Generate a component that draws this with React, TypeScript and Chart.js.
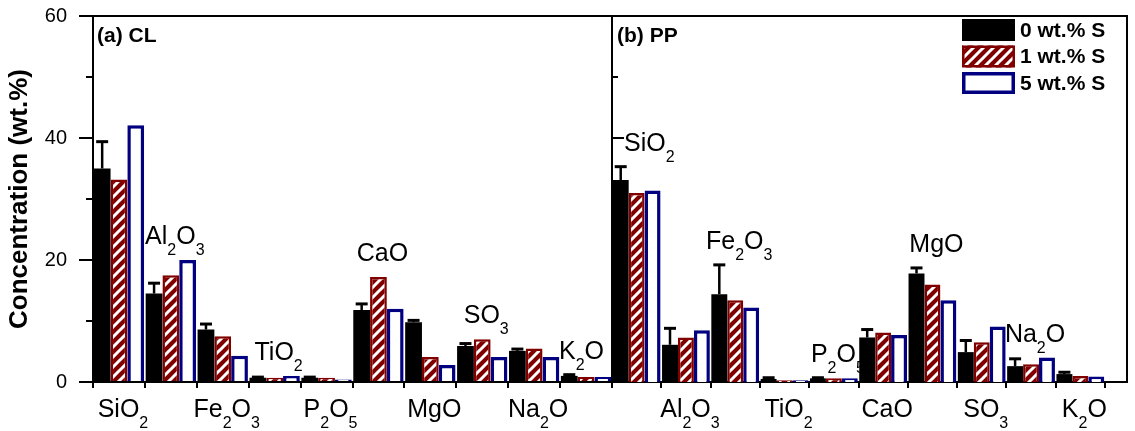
import React, { useEffect, useRef } from 'react';
import { Chart, registerables } from 'chart.js';

Chart.register(...registerables);

const FONT = '"Liberation Sans", Arial, Helvetica, sans-serif';

// ---- data ----
const categories = ['SiO2', 'Al2O3', 'Fe2O3', 'TiO2', 'P2O5', 'CaO', 'MgO', 'SO3', 'Na2O', 'K2O'];
const seriesNames = ['0 wt.% S', '1 wt.% S', '5 wt.% S'];
const panelTitles = ['(a) CL', '(b) PP'];
const yTitle = 'Concentration (wt.%)';

// (a) CL
const clS0 = [35.0, 14.5, 8.6, 0.7, 0.7, 11.8, 9.8, 5.9, 5.1, 1.0];
const clS1 = [33.2, 17.5, 7.5, 0.7, 0.7, 17.2, 4.1, 7.0, 5.5, 0.8];
const clS5 = [42.1, 20.0, 4.3, 1.0, 0.4, 12.0, 2.8, 4.1, 4.1, 0.8];
const clS0Err = [4.4, 1.7, 0.9, 0.1, 0.1, 1.0, 0.3, 0.4, 0.3, 0.2];

// (b) PP
const ppS0 = [33.1, 6.1, 14.4, 0.5, 0.6, 7.3, 17.8, 4.9, 2.6, 1.3];
const ppS1 = [31.0, 7.3, 13.4, 0.3, 0.6, 8.1, 16.0, 6.5, 2.9, 1.0];
const ppS5 = [31.4, 8.5, 12.2, 0.3, 0.6, 7.7, 13.4, 9.1, 4.0, 0.9];
const ppS0Err = [2.2, 2.7, 4.8, 0.2, 0.1, 1.3, 0.9, 1.9, 1.2, 0.3];

const yMin = 0;
const yMax = 60;
const yMajorStep = 20;
const yMinorTicks = [10, 30, 50];

const panels = [
  { series: [clS0, clS1, clS5], err: clS0Err, labelAboveOdd: true, title: panelTitles[0] },
  { series: [ppS0, ppS1, ppS5], err: ppS0Err, labelAboveOdd: false, title: panelTitles[1] },
];

function makeHatch(): CanvasPattern | string {
  const s = 10;
  const c = document.createElement('canvas');
  c.width = s;
  c.height = s;
  const g = c.getContext('2d');
  if (!g) return '#800000';
  g.fillStyle = '#800000';
  g.fillRect(0, 0, s, s);
  g.strokeStyle = '#ffffff';
  g.lineWidth = 3;
  g.beginPath();
  for (const k of [-s, 0, s]) {
    g.moveTo(k - 2, s + 2);
    g.lineTo(k + s + 2, -2);
  }
  g.stroke();
  const p = g.createPattern(c, 'repeat');
  return p || '#800000';
}

function drawFormula(
  ctx: CanvasRenderingContext2D,
  text: string,
  cx: number,
  baseline: number,
  size: number,
  minLeft: number,
  maxRight: number,
) {
  const tokens = text.match(/[A-Za-z]+|\d+/g) || [];
  const mainFont = `${size}px ${FONT}`;
  const subFont = `${Math.round(size * 0.64)}px ${FONT}`;
  let total = 0;
  const widths: number[] = [];
  tokens.forEach((t) => {
    ctx.font = /\d/.test(t) ? subFont : mainFont;
    const w = ctx.measureText(t).width;
    widths.push(w);
    total += w;
  });
  let x = cx - total / 2;
  if (x + total > maxRight) x = maxRight - total;
  if (x < minLeft) x = minLeft;
  ctx.textAlign = 'left';
  ctx.textBaseline = 'alphabetic';
  tokens.forEach((t, i) => {
    const sub = /\d/.test(t);
    ctx.font = sub ? subFont : mainFont;
    ctx.fillText(t, x, baseline + (sub ? Math.round(size * 0.44) : 0));
    x += widths[i];
  });
}

function makeStyles(hatch: CanvasPattern | string) {
  return [
    { backgroundColor: '#000000', borderColor: '#000000', borderWidth: 0 },
    { backgroundColor: hatch, borderColor: '#800000', borderWidth: 2.5 },
    { backgroundColor: '#ffffff', borderColor: '#000080', borderWidth: 3.5 },
  ];
}

function buildChart(canvas: HTMLCanvasElement, pi: number): Chart {
  const p = panels[pi];
  const isLeft = pi === 0;
  const styles = makeStyles(makeHatch());
  const datasets: any[] = p.series.map((d, i) => ({
    label: seriesNames[i],
    data: d,
    categoryPercentage: 0.97,
    barPercentage: 1.0,
    ...styles[i],
  }));

  const deco = {
    id: 'deco' + pi,
    afterDatasetsDraw(chart: any) {
      const ctx: CanvasRenderingContext2D = chart.ctx;
      const ys = chart.scales.y;
      const xs = chart.scales.x;
      const area = chart.chartArea;
      const frameRight = area.right + 22;
      ctx.save();
      ctx.strokeStyle = '#000';
      ctx.fillStyle = '#000';
      ctx.lineCap = 'butt';

      // error bars (0 wt.% S series)
      const meta = chart.getDatasetMeta(0);
      meta.data.forEach((bar: any, i: number) => {
        const top = ys.getPixelForValue(p.series[0][i] + p.err[i]);
        ctx.lineWidth = 2.5;
        ctx.beginPath();
        ctx.moveTo(bar.x, bar.y);
        ctx.lineTo(bar.x, top);
        ctx.stroke();
        ctx.lineWidth = 3;
        ctx.beginPath();
        ctx.moveTo(bar.x - 6, top);
        ctx.lineTo(bar.x + 6, top);
        ctx.stroke();
      });

      // frame and ticks
      ctx.lineWidth = 2;
      ctx.beginPath();
      if (isLeft) {
        ctx.moveTo(area.left - 14, area.top);
        ctx.lineTo(area.right + 1, area.top);
        yMinorTicks.forEach((v) => {
          const py = ys.getPixelForValue(v);
          ctx.moveTo(area.left - 7, py);
          ctx.lineTo(area.left, py);
        });
      } else {
        ctx.moveTo(area.left - 2, area.top);
        ctx.lineTo(frameRight + 1, area.top);
        ctx.moveTo(frameRight, area.top);
        ctx.lineTo(frameRight, area.bottom + 1);
        ctx.moveTo(area.right, area.bottom);
        ctx.lineTo(frameRight + 1, area.bottom);
        ctx.moveTo(area.left, area.top);
        ctx.lineTo(area.left, area.bottom);
        yMinorTicks.forEach((v) => {
          const py = ys.getPixelForValue(v);
          ctx.moveTo(area.left, py);
          ctx.lineTo(area.left + 6, py);
        });
        for (let v = yMin + yMajorStep; v < yMax; v += yMajorStep) {
          const py = ys.getPixelForValue(v);
          ctx.moveTo(area.left, py);
          ctx.lineTo(area.left + 12, py);
        }
      }
      ctx.stroke();

      // category labels
      categories.forEach((cat, i) => {
        const above = (i % 2 === 1) === p.labelAboveOdd;
        const cx = xs.getPixelForValue(i) + 4;
        if (above) {
          const maxV = Math.max(p.series[0][i] + p.err[i], p.series[1][i], p.series[2][i]);
          drawFormula(ctx, cat, cx, ys.getPixelForValue(maxV) - 16, 25, area.left + 12, area.right - 8);
        } else {
          drawFormula(ctx, cat, cx, area.bottom + 35, 25, 0, 10000);
        }
      });

      // panel title
      ctx.fillStyle = '#000';
      ctx.font = `bold 21px ${FONT}`;
      ctx.textAlign = 'left';
      ctx.textBaseline = 'alphabetic';
      ctx.fillText(p.title, area.left + (isLeft ? 4 : 5), area.top + 26);

      // legend (right panel)
      if (!isLeft) {
        const lx = frameRight - 165;
        const bw = 53;
        const bh = 22;
        const rows = [30, 56.5, 83];
        seriesNames.forEach((name, i) => {
          const st: any = styles[i];
          const cy = rows[i];
          ctx.fillStyle = st.backgroundColor;
          ctx.fillRect(lx, cy - bh / 2, bw, bh);
          if (st.borderWidth > 0) {
            ctx.strokeStyle = st.borderColor;
            ctx.lineWidth = st.borderWidth;
            const h = st.borderWidth / 2;
            ctx.strokeRect(lx + h, cy - bh / 2 + h, bw - 2 * h, bh - 2 * h);
          }
          ctx.fillStyle = '#000';
          ctx.font = `bold 21px ${FONT}`;
          ctx.textBaseline = 'middle';
          ctx.fillText(name, lx + bw + 5, cy + 1);
        });
      }
      ctx.restore();
    },
  };

  return new Chart(canvas, {
    type: 'bar',
    data: { labels: categories, datasets },
    options: {
      responsive: false,
      maintainAspectRatio: false,
      animation: false,
      events: [],
      layout: { padding: isLeft ? { left: 0, top: 16, right: 0, bottom: 0 } : { left: 1, top: 16, right: 30, bottom: 0 } },
      plugins: { legend: { display: false }, tooltip: { enabled: false } },
      scales: {
        x: {
          type: 'category',
          offset: true,
          grid: {
            display: true,
            offset: true,
            drawOnChartArea: false,
            drawTicks: true,
            tickLength: 6,
            color: '#000',
            lineWidth: 2,
          },
          border: { display: true, color: '#000', width: 2 },
          ticks: { display: false },
          afterFit: (s: any) => {
            s.height = 49;
          },
        } as any,
        y: {
          type: 'linear',
          display: isLeft,
          position: 'left',
          min: yMin,
          max: yMax,
          ticks: {
            stepSize: yMajorStep,
            color: '#000',
            padding: 12,
            font: { family: FONT, size: 20, lineHeight: 0.3 },
          },
          grid: {
            display: true,
            drawOnChartArea: false,
            drawTicks: true,
            tickLength: 14,
            color: '#000',
            lineWidth: 2,
          },
          border: { display: true, color: '#000', width: 2 },
          title: {
            display: isLeft,
            text: yTitle,
            color: '#000',
            font: { family: FONT, size: 26, weight: 'bold' },
            padding: { top: 4, bottom: 4 },
          },
          afterFit: (s: any) => {
            s.width = isLeft ? 93 : 0;
          },
        } as any,
      },
    },
    plugins: [deco],
  });
}

export default function App() {
  const leftRef = useRef<HTMLCanvasElement>(null);
  const rightRef = useRef<HTMLCanvasElement>(null);

  useEffect(() => {
    if (!leftRef.current || !rightRef.current) return;
    const c1 = buildChart(leftRef.current, 0);
    const c2 = buildChart(rightRef.current, 1);
    return () => {
      c1.destroy();
      c2.destroy();
    };
  }, []);

  return (
    <div style={{ position: 'fixed', left: 0, top: 0, width: 1135, height: 431, background: '#fff' }}>
      <canvas ref={leftRef} width={612} height={431} style={{ position: 'absolute', left: 0, top: 0, display: 'block' }} />
      <canvas ref={rightRef} width={524} height={431} style={{ position: 'absolute', left: 611, top: 0, display: 'block' }} />
    </div>
  );
}
